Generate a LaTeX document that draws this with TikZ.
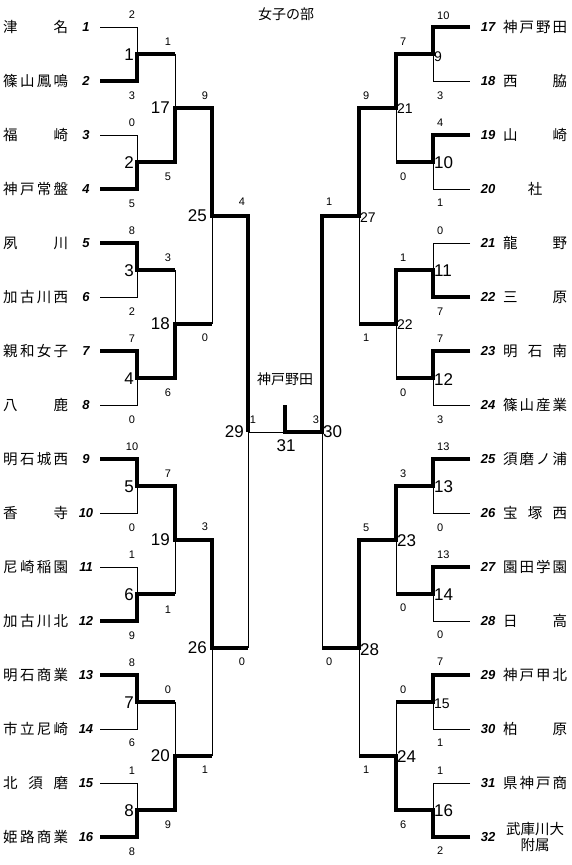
\documentclass[tikz,border=0pt]{standalone}
\usepackage{fontspec}
\setmainfont{Noto Sans CJK JP}
\newfontfamily\lat{Liberation Sans}
\begin{document}
\begin{tikzpicture}[x=1pt,y=-1pt,
  thinl/.style={line width=0.9pt},
  win/.style={line width=3.3pt, line join=miter, line cap=butt},
  score/.style={font=\lat\fontsize{11}{12}\selectfont, inner sep=0pt},
  mnum/.style={font=\lat\fontsize{17}{19}\selectfont, inner sep=0pt},
  mnums/.style={font=\lat\fontsize{14}{16}\selectfont, inner sep=0pt},
  tnum/.style={font=\lat\bfseries\itshape\fontsize{13}{14}\selectfont, inner sep=0pt},
  tname/.style={font=\fontsize{14.5}{16}\selectfont, inner sep=0pt},
  lbl/.style={font=\fontsize{14}{16}\selectfont, inner sep=0pt},
]
\useasboundingbox (0,0) rectangle (571,865);

% title
\node[lbl] (title) at (286,14) {女子の部};

% ---------- thin bracket, left ----------
\foreach \k in {0,...,7} {
  \draw[thinl] (100,{27+108*\k}) -- (137,{27+108*\k}) -- (137,{81+108*\k}) -- (100,{81+108*\k});
  \draw[thinl] (137,{54+108*\k}) -- (175,{54+108*\k});
}
\foreach \k in {0,...,3} {
  \draw[thinl] (175,{54+216*\k}) -- (175,{162+216*\k});
  \draw[thinl] (175,{108+216*\k}) -- (212,{108+216*\k});
}
\foreach \k in {0,1} {
  \draw[thinl] (212,{108+432*\k}) -- (212,{324+432*\k});
  \draw[thinl] (212,{216+432*\k}) -- (248,{216+432*\k});
}
\draw[thinl] (248,216) -- (248,648);
\draw[thinl] (248,432) -- (322,432);

% ---------- thin bracket, right ----------
\foreach \k in {0,...,7} {
  \draw[thinl] (470,{27+108*\k}) -- (433,{27+108*\k}) -- (433,{81+108*\k}) -- (470,{81+108*\k});
  \draw[thinl] (433,{54+108*\k}) -- (396,{54+108*\k});
}
\foreach \k in {0,...,3} {
  \draw[thinl] (396,{54+216*\k}) -- (396,{162+216*\k});
  \draw[thinl] (396,{108+216*\k}) -- (359,{108+216*\k});
}
\foreach \k in {0,1} {
  \draw[thinl] (359,{108+432*\k}) -- (359,{324+432*\k});
  \draw[thinl] (359,{216+432*\k}) -- (322,{216+432*\k});
}
\draw[thinl] (322,216) -- (322,648);

% ---------- winners (thick) ----------
\draw[win] (100,81) -- (137,81) -- (137,54) -- (175,54);
\draw[win] (100,189) -- (137,189) -- (137,162) -- (175,162) -- (175,108) -- (212,108) -- (212,216) -- (248,216) -- (248,432);
\draw[win] (100,243) -- (137,243) -- (137,270) -- (175,270);
\draw[win] (100,351) -- (137,351) -- (137,378) -- (175,378) -- (175,324) -- (212,324);
\draw[win] (100,459) -- (137,459) -- (137,486) -- (175,486) -- (175,540) -- (212,540) -- (212,648) -- (248,648);
\draw[win] (100,621) -- (137,621) -- (137,594) -- (175,594);
\draw[win] (100,675) -- (137,675) -- (137,702) -- (175,702);
\draw[win] (100,837) -- (137,837) -- (137,810) -- (175,810) -- (175,756) -- (212,756);

\draw[win] (470,27) -- (433,27) -- (433,54) -- (396,54) -- (396,108) -- (359,108) -- (359,216) -- (322,216) -- (322,432) -- (285,432) -- (285,405);
\draw[win] (470,135) -- (433,135) -- (433,162) -- (396,162);
\draw[win] (470,297) -- (433,297) -- (433,270) -- (396,270) -- (396,324) -- (359,324);
\draw[win] (470,351) -- (433,351) -- (433,378) -- (396,378);
\draw[win] (470,459) -- (433,459) -- (433,486) -- (396,486) -- (396,540) -- (359,540) -- (359,648) -- (322,648);
\draw[win] (470,567) -- (433,567) -- (433,594) -- (396,594);
\draw[win] (470,675) -- (433,675) -- (433,702) -- (396,702);
\draw[win] (470,837) -- (433,837) -- (433,810) -- (396,810) -- (396,756) -- (359,756);

% ---------- team names and numbers, left ----------
\foreach \i/\nm in {
  1/{津\hfil 名}, 2/{篠\hfil 山\hfil 鳳\hfil 鳴}, 3/{福\hfil 崎}, 4/{神\hfil 戸\hfil 常\hfil 盤},
  5/{夙\hfil 川}, 6/{加\hfil 古\hfil 川\hfil 西}, 7/{親\hfil 和\hfil 女\hfil 子}, 8/{八\hfil 鹿},
  9/{明\hfil 石\hfil 城\hfil 西}, 10/{香\hfil 寺}, 11/{尼\hfil 崎\hfil 稲\hfil 園}, 12/{加\hfil 古\hfil 川\hfil 北},
  13/{明\hfil 石\hfil 商\hfil 業}, 14/{市\hfil 立\hfil 尼\hfil 崎}, 15/{北\hfil 須\hfil 磨}, 16/{姫\hfil 路\hfil 商\hfil 業}} {
  \node[tname, anchor=west] (L\i) at (3,{27+54*(\i-1)}) {\makebox[65pt][s]{\nm}};
  \node[tnum] (N\i) at (86,{27+54*(\i-1)}) {\i};
}

% ---------- team names and numbers, right ----------
\foreach \i/\nm in {
  17/{神\hfil 戸\hfil 野\hfil 田}, 18/{西\hfil 脇}, 19/{山\hfil 崎},
  21/{龍\hfil 野}, 22/{三\hfil 原}, 23/{明\hfil 石\hfil 南}, 24/{篠\hfil 山\hfil 産\hfil 業},
  25/{須\hfil 磨\hfil ノ\hfil 浦}, 26/{宝\hfil 塚\hfil 西}, 27/{園\hfil 田\hfil 学\hfil 園}, 28/{日\hfil 高},
  29/{神\hfil 戸\hfil 甲\hfil 北}, 30/{柏\hfil 原}, 31/{県\hfil 神\hfil 戸\hfil 商}} {
  \node[tname, anchor=west] (R\i) at (503,{27+54*(\i-17)}) {\makebox[64pt][s]{\nm}};
}
\node[tname] (R20) at (535,189) {社};
\node[tname] (R32a) at (535,829) {武庫川大};
\node[tname] (R32b) at (535,845) {附属};
\foreach \i in {17,...,32} {
  \node[tnum] (N\i) at (488,{27+54*(\i-17)}) {\i};
}

% ---------- scores, left ----------
\foreach \x/\y/\s in {
  132/15/2, 132/96/3, 132/123/0, 132/204/5, 132/231/8, 132/312/2, 132/339/7, 132/420/0,
  132/447/10, 132/528/0, 132/555/1, 132/636/9, 132/663/8, 132/743/6, 132/771/1, 132/852/8,
  168/42/1, 168/177/5, 168/258/3, 168/393/6, 168/474/7, 168/610/1, 168/690/0, 168/825/9,
  205/96/9, 205/338/0, 205/527/3, 205/770/1,
  242/202/4, 242/662/0,
  253/420/1, 316/420/3} {
  \node[score] at (\x,\y) {\s};
}
% ---------- scores, right ----------
\foreach \x/\y/\s in {
  437/16/10, 437/96/3, 437/123/4, 437/203/1, 437/231/0, 437/312/7, 437/339/7, 437/420/3,
  437/447/13, 437/528/0, 437/555/13, 437/635/0, 437/662/7, 437/743/1, 437/771/1, 437/851/2,
  400/42/7, 400/177/0, 400/258/1, 400/393/0, 400/474/3, 400/608/0, 400/690/0, 400/825/6,
  363/96/9, 363/338/1, 363/528/5, 363/770/1,
  326/202/1, 326/662/0} {
  \node[score, anchor=west] at (\x,\y) {\s};
}

% ---------- match numbers, left ----------
\foreach \x/\y/\m in {
  134/55/1, 134/163/2, 134/271/3, 134/379/4, 134/487/5, 134/595/6, 134/703/7, 134/811/8,
  170/108/17, 170/324/18, 170/540/19, 170/756/20,
  207/216/25, 207/648/26, 244/432/29} {
  \node[mnum, anchor=east] (M\m) at (\x,\y) {\m};
}
% ---------- match numbers, right ----------
\foreach \x/\y/\m in {
  434/163/10, 434/271/11, 434/380/12, 434/487/13, 434/595/14, 434/811/16,
  397/541/23, 397/757/24, 360/650/28, 323/432/30} {
  \node[mnum, anchor=west] (M\m) at (\x,\y) {\m};
}
\foreach \x/\y/\m in {434/57/9, 397/109/21, 360/218/27, 397/325/22, 434/704/15} {
  \node[mnums, anchor=west] (M\m) at (\x,\y) {\m};
}
\node[mnum] (M31) at (286,446) {31};
\node[lbl] (champ) at (285,379) {神戸野田};
\end{tikzpicture}
\end{document}
